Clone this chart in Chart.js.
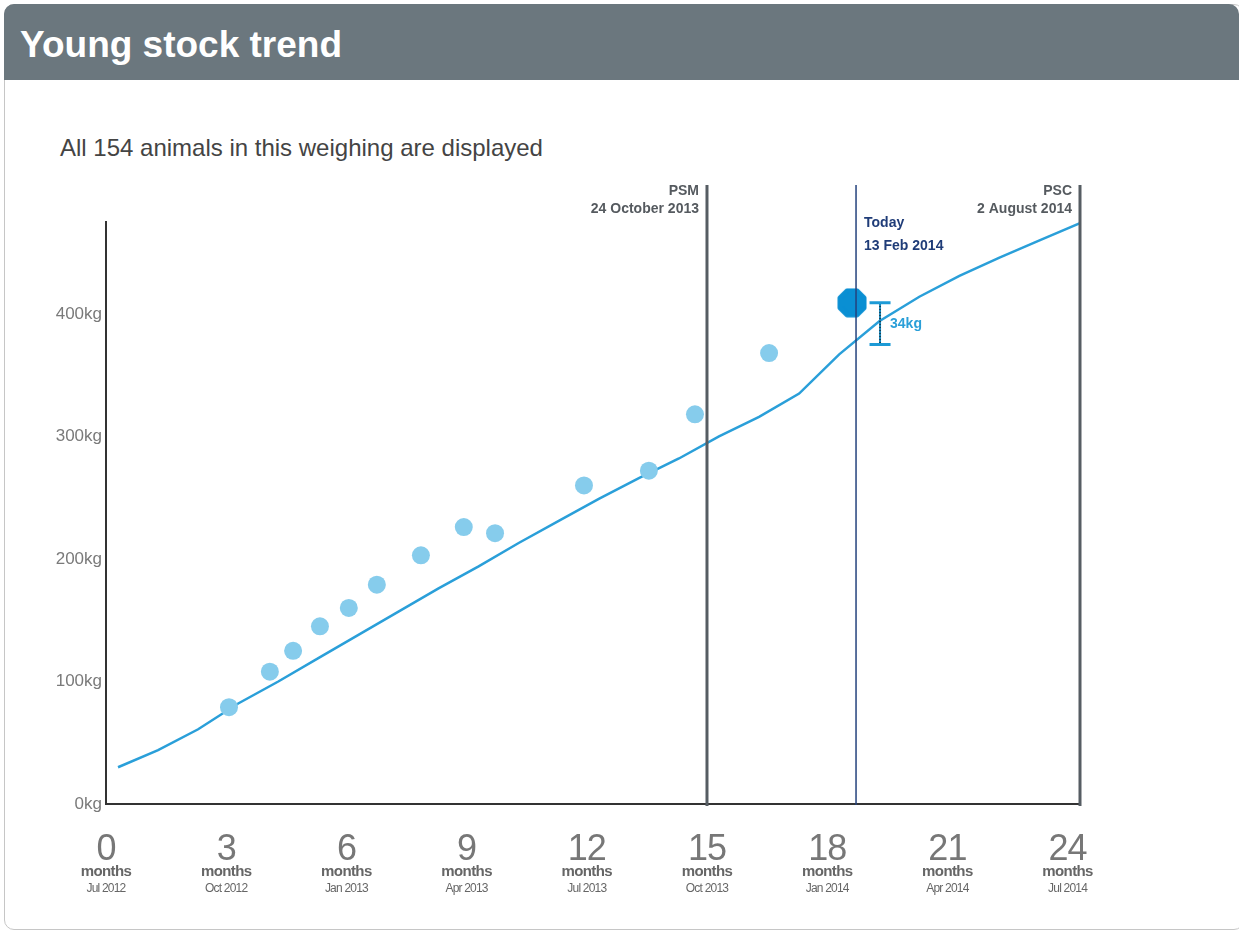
<!DOCTYPE html>
<html>
<head>
<meta charset="utf-8">
<title>Young stock trend</title>
<script src="https://cdn.jsdelivr.net/npm/chart.js@4.4.1/dist/chart.umd.min.js"></script>
<style>
  html, body { margin: 0; padding: 0; background: #fff; }
  body { width: 1239px; height: 932px; overflow: hidden; position: relative;
         font-family: 'Liberation Sans', Arial, Helvetica, sans-serif; }
  #panel { position: absolute; left: 4px; top: 4px; width: 1240px; height: 926px;
           border: 1px solid #c6c6c6; border-radius: 10px; box-sizing: border-box; }
  #head { position: absolute; left: 4px; top: 4px; width: 1235px; height: 76px;
          background: #6b777e; border-radius: 10px 10px 0 0; }
  #title { position: absolute; left: 20px; top: 25.7px; font-size: 37px; line-height: 37px;
           font-weight: bold; color: #fff; white-space: nowrap; }
  #subtitle { position: absolute; left: 60px; top: 135.7px; font-size: 24px; line-height: 24px;
              color: #444; white-space: nowrap; }
  #chart { position: absolute; left: 0; top: 0; }
</style>
</head>
<body>
<div id="panel"></div>
<div id="head"></div>
<div id="title">Young stock trend</div>
<div id="subtitle">All 154 animals in this weighing are displayed</div>
<canvas id="chart" width="1239" height="932"></canvas>
<script>
// Expected growth curve (age in months, weight in kg)
const trendMonths = [0.3, 1.3, 2.3, 3.3, 4.3, 5.3, 6.3, 7.3, 8.3, 9.3, 10.3, 11.3, 12.3,
                     13.3, 14.3, 15.3, 16.3, 17.3, 18.3, 19.3, 20.3, 21.3, 22.3, 23.3, 24.31];
const trendKg = [30, 44, 61, 82, 100, 119, 138, 157, 176, 194, 213, 231, 249,
                 266, 282, 300, 316, 335, 367, 394, 414, 431, 446, 460, 474];

// Weighing results for the group
const weighMonths = [3.07, 4.09, 4.67, 5.34, 6.06, 6.76, 7.86, 8.93, 9.71, 11.93, 13.55, 14.70, 16.55];
const weighKg = [79, 108, 125, 145, 160, 179, 203, 226, 221, 260, 272, 318, 368];

// Today's weighing and its difference from the curve
const todayMonth = 18.72;
const todayWeighMonth = 18.62;
const todayKg = 409;
const gapKg = 34;
const todayLabels = ['Today', '13 Feb 2014'];

// Milestones
const milestoneMonths = [15.0, 24.31];
const milestoneNames = ['PSM', 'PSC'];
const milestoneDates = ['24 October 2013', '2 August 2014'];

// Axis ticks
const tickMonths = [0, 3, 6, 9, 12, 15, 18, 21, 24];
const tickDates = ['Jul 2012', 'Oct 2012', 'Jan 2013', 'Apr 2013', 'Jul 2013',
                   'Oct 2013', 'Jan 2014', 'Apr 2014', 'Jul 2014'];
const kgUnit = 'kg';
const monthUnit = 'months';

const FONT = "'Liberation Sans', Arial, Helvetica, sans-serif";
const NARROW = "'Liberation Sans Narrow', 'Liberation Sans', Arial, sans-serif";

// Octagon marker for today's weighing
function octagonMarker(size, color) {
  const c = document.createElement('canvas');
  c.width = c.height = size;
  const g = c.getContext('2d');
  const r = (size - 6) / 2 / Math.cos(Math.PI / 8);
  g.fillStyle = color; g.strokeStyle = color; g.lineWidth = 5; g.lineJoin = 'round';
  g.beginPath();
  for (let i = 0; i < 8; i++) {
    const a = Math.PI / 8 + i * Math.PI / 4;
    const px = size / 2 + r * Math.cos(a), py = size / 2 + r * Math.sin(a);
    if (i === 0) g.moveTo(px, py); else g.lineTo(px, py);
  }
  g.closePath(); g.fill(); g.stroke();
  return c;
}

const overlay = {
  id: 'overlay',
  afterDatasetsDraw(chart) {
    const { ctx, chartArea, scales: { x, y } } = chart;
    const lineTop = chartArea.top - 37;
    ctx.save();
    // milestone lines
    milestoneMonths.forEach((m, i) => {
      const px = x.getPixelForValue(m);
      ctx.strokeStyle = '#565d63'; ctx.lineWidth = 3;
      ctx.beginPath(); ctx.moveTo(px, lineTop); ctx.lineTo(px, chartArea.bottom + 2); ctx.stroke();
      ctx.fillStyle = '#555a5f'; ctx.textAlign = 'right'; ctx.textBaseline = 'alphabetic';
      ctx.font = 'bold 14px ' + FONT;
      ctx.fillText(milestoneNames[i], px - 8, lineTop + 10);
      ctx.fillText(milestoneDates[i], px - 8, lineTop + 27.5);
    });
    // today line
    const tx = x.getPixelForValue(todayMonth);
    ctx.strokeStyle = '#24427d'; ctx.lineWidth = 1.5;
    ctx.beginPath(); ctx.moveTo(tx, lineTop); ctx.lineTo(tx, chartArea.bottom + 1); ctx.stroke();
    ctx.fillStyle = '#1f3c78'; ctx.textAlign = 'left'; ctx.font = 'bold 14px ' + FONT;
    ctx.fillText(todayLabels[0], tx + 8, lineTop + 41.5);
    ctx.fillText(todayLabels[1], tx + 8, lineTop + 65);
    // difference bar
    const bx = tx + 24;
    const yTop = y.getPixelForValue(todayKg);
    const yBot = y.getPixelForValue(todayKg - gapKg);
    ctx.strokeStyle = '#1c9ad6'; ctx.lineWidth = 2;
    ctx.beginPath(); ctx.moveTo(bx, yTop); ctx.lineTo(bx, yBot); ctx.stroke();
    ctx.strokeStyle = '#111'; ctx.lineWidth = 1.2; ctx.setLineDash([1.5, 1.5]);
    ctx.beginPath(); ctx.moveTo(bx, yTop); ctx.lineTo(bx, yBot); ctx.stroke();
    ctx.setLineDash([]);
    ctx.strokeStyle = '#1c9ad6'; ctx.lineWidth = 3;
    ctx.beginPath();
    ctx.moveTo(bx - 10.5, yTop); ctx.lineTo(bx + 10.5, yTop);
    ctx.moveTo(bx - 10.5, yBot); ctx.lineTo(bx + 10.5, yBot);
    ctx.stroke();
    ctx.fillStyle = '#2a9fd8'; ctx.font = 'bold 14px ' + FONT; ctx.textBaseline = 'middle';
    ctx.fillText(gapKg + kgUnit, bx + 10, (yTop + yBot) / 2);
    ctx.restore();
  },
  afterDraw(chart) {
    const { ctx, chartArea, scales: { x } } = chart;
    ctx.save();
    ctx.textAlign = 'center'; ctx.textBaseline = 'alphabetic';
    tickMonths.forEach((m, i) => {
      const px = x.getPixelForValue(m);
      ctx.fillStyle = '#777';
      ctx.font = '36px ' + FONT;
      ctx.letterSpacing = '-1px';
      ctx.fillText(String(m), px, chartArea.bottom + 56);
      ctx.fillStyle = '#666';
      ctx.font = 'bold 15px ' + NARROW;
      ctx.letterSpacing = '-0.6px';
      ctx.fillText(monthUnit, px, chartArea.bottom + 72);
      ctx.font = '12px ' + NARROW;
      ctx.letterSpacing = '-0.8px';
      ctx.fillText(tickDates[i], px, chartArea.bottom + 88);
    });
    ctx.restore();
  }
};

Chart.defaults.font.family = FONT;

new Chart(document.getElementById('chart'), {
  type: 'line',
  data: {
    datasets: [
      {
        label: 'Today',
        type: 'scatter',
        data: [{ x: todayWeighMonth, y: todayKg }],
        pointStyle: octagonMarker(30, '#0a8fd3'),
        pointRadius: 14,
        order: 0
      },
      {
        label: 'Weighings',
        type: 'scatter',
        data: weighMonths.map((m, i) => ({ x: m, y: weighKg[i] })),
        backgroundColor: '#86ccec',
        borderWidth: 0,
        pointRadius: 9,
        order: 1
      },
      {
        label: 'Target',
        data: trendMonths.map((m, i) => ({ x: m, y: trendKg[i] })),
        borderColor: '#2a9fd9',
        borderWidth: 2.5,
        pointRadius: 0,
        tension: 0,
        fill: false,
        order: 2
      }
    ]
  },
  options: {
    responsive: false,
    devicePixelRatio: 1,
    animation: false,
    layout: { padding: { left: 0, right: 159, top: 222, bottom: 128 } },
    plugins: { legend: { display: false }, tooltip: { enabled: false } },
    scales: {
      x: {
        type: 'linear', min: 0, max: 24.31,
        grid: { display: false, drawTicks: false },
        border: { display: true, color: '#333', width: 2 },
        ticks: { display: false, stepSize: 3, includeBounds: false },
        afterFit(s) { s.height = 0; }
      },
      y: {
        type: 'linear', min: 0, max: 475,
        grid: { display: false, drawTicks: false },
        border: { display: true, color: '#333', width: 2 },
        ticks: {
          stepSize: 100, includeBounds: false, padding: 4, color: '#7a7a7a',
          font: { size: 17 },
          callback: v => v + kgUnit
        },
        afterFit(s) { s.width = 106; }
      }
    }
  },
  plugins: [overlay]
});
</script>
</body>
</html>
